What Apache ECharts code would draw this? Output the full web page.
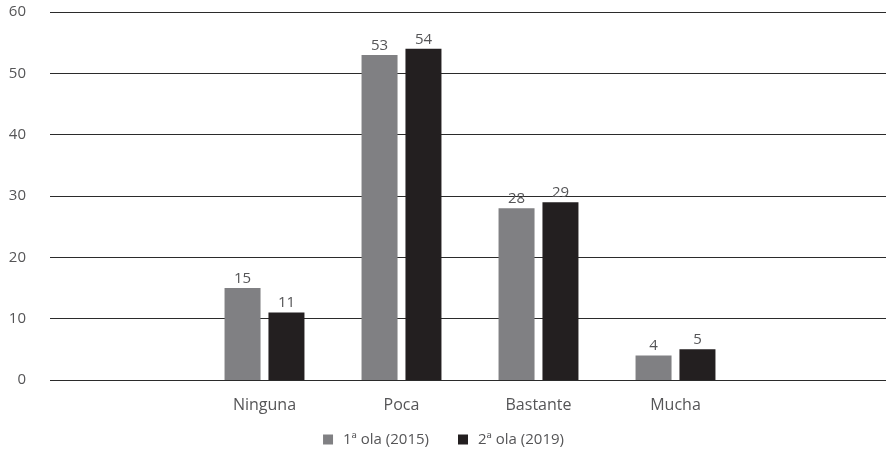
<!DOCTYPE html>
<html>
<head>
<meta charset="utf-8">
<script src="https://cdn.jsdelivr.net/npm/echarts@6/dist/echarts.min.js"></script>
<style>
  html, body { margin: 0; padding: 0; background: #ffffff; }
  #chart { width: 887px; height: 452px; }
</style>
</head>
<body>
<div id="chart"></div>
<script>
// Categories and series values
const categories = ['Ninguna', 'Poca', 'Bastante', 'Mucha'];
const seriesNames = ['1ª ola (2015)', '2ª ola (2019)'];
const wave2015 = [15, 53, 28, 4];
const wave2019 = [11, 54, 29, 5];
const yTicks = [0, 10, 20, 30, 40, 50, 60];

const FONT = '"Open Sans", "Noto Sans", sans-serif';
const GRAY = '#808083';
const DARK = '#231f20';
const TEXT = '#555557';

const chart = echarts.init(document.getElementById('chart'), null, { renderer: 'canvas' });

const valueLabel = {
  show: true,
  position: 'top',
  distance: 2,
  color: TEXT,
  fontFamily: FONT,
  fontSize: 15
};

chart.setOption({
  animation: false,
  backgroundColor: '#ffffff',
  textStyle: { fontFamily: FONT },
  grid: [
    // full-width grid carrying the horizontal gridlines and value ticks
    { left: 50, right: 1, top: 12, bottom: 72, containLabel: false },
    // narrower grid where the four category groups sit
    { left: 196, width: 548, top: 12, bottom: 72, containLabel: false }
  ],
  legend: {
    data: seriesNames,
    bottom: 0,
    left: 'center',
    itemWidth: 10,
    itemHeight: 10,
    itemGap: 29,
    icon: 'rect',
    textStyle: {
      color: TEXT,
      fontFamily: FONT,
      fontSize: 15,
      padding: [0, 0, 0, 5]
    }
  },
  xAxis: [
    {
      gridIndex: 0,
      type: 'value',
      min: 0,
      max: 1,
      show: false
    },
    {
      gridIndex: 1,
      type: 'category',
      data: categories,
      axisLine: { show: false },
      axisTick: { show: false },
      axisLabel: {
        color: TEXT,
        fontFamily: FONT,
        fontSize: 16,
        margin: 17
      }
    }
  ],
  yAxis: [
    {
      gridIndex: 0,
      type: 'value',
      min: yTicks[0],
      max: yTicks[yTicks.length - 1],
      interval: 10,
      axisLine: { show: false },
      axisTick: { show: false },
      axisLabel: {
        color: TEXT,
        fontFamily: FONT,
        fontSize: 15,
        margin: 24
      },
      splitLine: { show: true, lineStyle: { color: '#2b2b2b', width: 1 } }
    },
    {
      gridIndex: 1,
      type: 'value',
      min: yTicks[0],
      max: yTicks[yTicks.length - 1],
      interval: 10,
      show: false,
      splitLine: { show: false }
    }
  ],
  series: [
    {
      name: seriesNames[0],
      type: 'bar',
      xAxisIndex: 1,
      yAxisIndex: 1,
      data: wave2015,
      barWidth: 36,
      barGap: '22%',
      itemStyle: { color: GRAY },
      label: valueLabel
    },
    {
      name: seriesNames[1],
      type: 'bar',
      xAxisIndex: 1,
      yAxisIndex: 1,
      data: wave2019,
      barWidth: 36,
      barGap: '22%',
      itemStyle: { color: DARK },
      label: valueLabel
    }
  ]
});
</script>
</body>
</html>
